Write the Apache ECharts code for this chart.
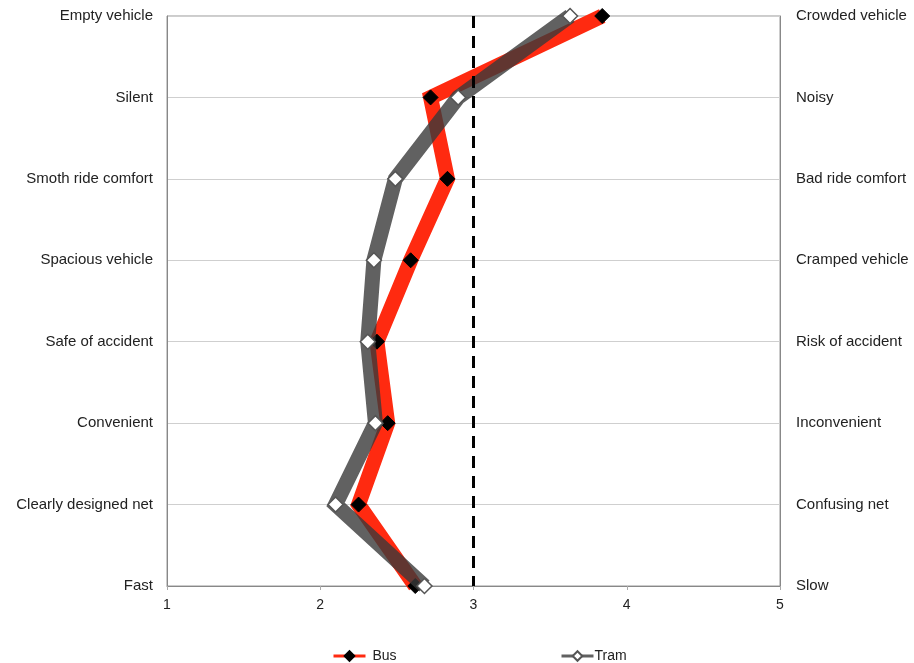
<!DOCTYPE html>
<html><head><meta charset="utf-8">
<script src="https://cdn.jsdelivr.net/npm/echarts@6/dist/echarts.min.js"></script>
<style>html,body{margin:0;padding:0;background:#fff}#c{width:914px;height:663px}</style>
</head><body><div id="c"></div>
<script>
const leftLabels = ['Empty vehicle','Silent','Smoth ride comfort','Spacious vehicle','Safe of accident','Convenient','Clearly designed net','Fast'];
const rightLabels = ['Crowded vehicle','Noisy','Bad ride comfort','Cramped vehicle','Risk of accident','Inconvenient','Confusing net','Slow'];
const busValues = [3.84, 2.72, 2.83, 2.59, 2.37, 2.44, 2.25, 2.62];
const tramValues = [3.63, 2.90, 2.49, 2.35, 2.31, 2.36, 2.10, 2.68];
const xTicks = [1, 2, 3, 4, 5];
const neutralValue = 3;

const font = 'Liberation Sans, Arial, sans-serif';
const fs = 15;
const chart = echarts.init(document.getElementById('c'));
chart.setOption({
  animation: false,
  backgroundColor: '#fff',
  grid: {left: 167, right: 134, top: 16, bottom: 77, show: true, borderColor: '#999', borderWidth: 1},
  xAxis: {
    type: 'value', min: xTicks[0], max: xTicks[xTicks.length-1], interval: 1,
    axisLine: {show: true, lineStyle: {color: '#888'}},
    axisTick: {show: true, length: 4, lineStyle: {color: '#aaa'}},
    splitLine: {show: false},
    axisLabel: {color: '#222', fontFamily: font, fontSize: 14, margin: 12}
  },
  yAxis: [
    {type: 'category', data: leftLabels, inverse: true, boundaryGap: false, position: 'left',
     axisLine: {show: true, lineStyle: {color: '#888'}}, axisTick: {show: false},
     splitLine: {show: true, lineStyle: {color: '#cfcfcf', width: 1}},
     axisLabel: {color: '#222', fontFamily: font, fontSize: fs, margin: 14}},
    {type: 'category', data: rightLabels, inverse: true, boundaryGap: false, position: 'right',
     axisLine: {show: true, lineStyle: {color: '#888'}}, axisTick: {show: false},
     splitLine: {show: false},
     axisLabel: {color: '#222', fontFamily: font, fontSize: fs, margin: 16, align: 'left'}}
  ],
  legend: [
    {data: ['Bus'], left: 327, top: 644, itemWidth: 32, itemHeight: 12, itemGap: 4,
     textStyle: {color: '#222', fontFamily: font, fontSize: 14, padding: [0, 0, 0, 2]},
     lineStyle: {width: 3}},
    {data: ['Tram'], left: 555, top: 644, itemWidth: 32, itemHeight: 12, itemGap: 4,
     textStyle: {color: '#222', fontFamily: font, fontSize: 14, padding: [0, 0, 0, -4]},
     lineStyle: {width: 3}}
  ],
  series: [
    {name: 'Bus', type: 'line', data: busValues.map((v, i) => [v, leftLabels[i]]), yAxisIndex: 0,
     symbol: 'diamond', symbolSize: 15, showAllSymbol: true,
     lineStyle: {color: '#ff2a10', width: 15, join: 'miter'},
     itemStyle: {color: '#000', borderColor: '#000', borderWidth: 1},
     z: 2,
     markLine: {silent: true, symbol: 'none', label: {show: false},
       lineStyle: {color: '#000', type: [12, 8], width: 3},
       data: [{xAxis: neutralValue}]}},
    {name: 'Tram', type: 'line', data: tramValues.map((v, i) => [v, leftLabels[i]]), yAxisIndex: 0,
     symbol: 'diamond', symbolSize: 15, showAllSymbol: true,
     lineStyle: {color: '#3a3a3a', width: 15, opacity: 0.8, join: 'miter'},
     itemStyle: {color: '#fff', borderColor: '#555', borderWidth: 1.5},
     z: 3}
  ]
});
</script></body></html>
